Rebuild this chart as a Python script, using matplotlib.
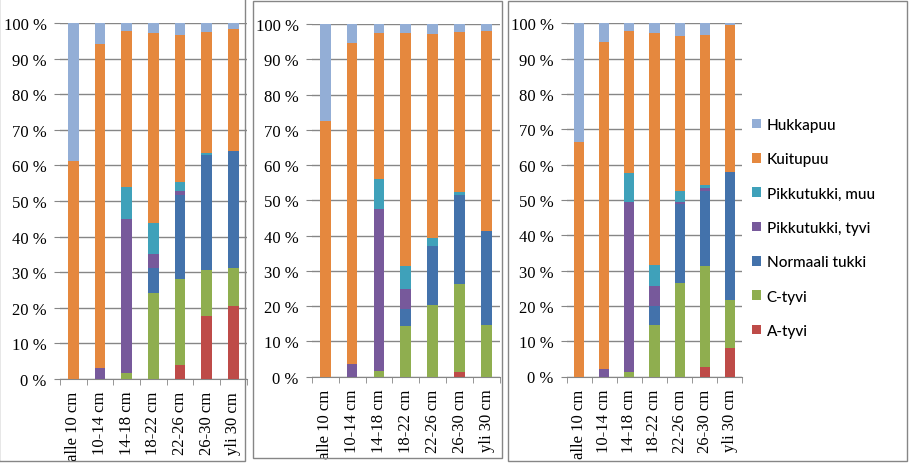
import matplotlib
matplotlib.use('Agg')
import matplotlib.pyplot as plt
from matplotlib.patches import Rectangle, Patch
import numpy as np

categories = ['alle 10 cm', '10-14 cm', '14-18 cm', '18-22 cm', '22-26 cm', '26-30 cm', 'yli 30 cm']
series = ['A-tyvi', 'C-tyvi', 'Normaali tukki', 'Pikkutukki, tyvi', 'Pikkutukki, muu', 'Kuitupuu', 'Hukkapuu']
colors = ['#BE4B48', '#8FAE4F', '#4372AB', '#77599B', '#3FA1BA', '#E5883E', '#93AED6']

# shares in %, one list per series (bottom to top), one value per category
panel1 = {
    'A-tyvi':           [0, 0, 0, 0, 4.0, 17.8, 20.6],
    'C-tyvi':           [0, 0, 1.7, 24.2, 24.1, 12.9, 10.7],
    'Normaali tukki':   [0, 0, 0, 6.9, 23.7, 32.2, 32.7],
    'Pikkutukki, tyvi': [0, 3.1, 43.2, 4.0, 0.9, 0, 0],
    'Pikkutukki, muu':  [0, 0, 9.1, 8.7, 2.6, 0.5, 0],
    'Kuitupuu':         [61.1, 91.0, 43.7, 53.5, 41.4, 34.2, 34.2],
    'Hukkapuu':         [38.9, 5.9, 2.3, 2.7, 3.3, 2.4, 1.8],
}
panel2 = {
    'A-tyvi':           [0, 0, 0, 0, 0, 1.4, 0],
    'C-tyvi':           [0, 0, 1.6, 14.4, 20.3, 24.8, 14.7],
    'Normaali tukki':   [0, 0, 0, 4.7, 16.8, 25.2, 26.6],
    'Pikkutukki, tyvi': [0, 3.7, 46.0, 5.9, 0, 0, 0],
    'Pikkutukki, muu':  [0, 0, 8.5, 6.4, 2.3, 1.0, 0],
    'Kuitupuu':         [72.4, 90.8, 41.4, 66.1, 57.9, 45.4, 56.6],
    'Hukkapuu':         [27.6, 5.5, 2.5, 2.5, 2.7, 2.2, 2.1],
}
panel3 = {
    'A-tyvi':           [0, 0, 0, 0, 0, 2.8, 8.1],
    'C-tyvi':           [0, 0, 1.3, 14.7, 26.5, 28.5, 13.7],
    'Normaali tukki':   [0, 0, 0, 5.4, 22.2, 21.2, 36.0],
    'Pikkutukki, tyvi': [0, 2.1, 48.0, 5.4, 0.6, 0.8, 0],
    'Pikkutukki, muu':  [0, 0, 8.2, 6.1, 3.2, 1.0, 0],
    'Kuitupuu':         [66.3, 92.5, 40.2, 65.7, 44.0, 42.5, 41.8],
    'Hukkapuu':         [33.7, 5.4, 2.3, 2.7, 3.5, 3.2, 0.4],
}
yticks = list(range(0, 101, 10))

W, H = 909, 464
GRAY = '#868686'
SERIF = 'Liberation Serif'

fig = plt.figure(figsize=(W / 100, H / 100), dpi=100)

# plot areas in pixels: left, right, top, bottom
areas = [(60, 246.7, 24, 380), (311.7, 500, 25, 377.7), (566.7, 742.3, 24.3, 377.5)]
# outer chart boxes in pixels
boxes = [(-1, 245, -1, 462), (253.3, 501.7, 2.3, 459.3), (508.3, 907, 2, 462)]

for (x0, x1, y0, y1) in boxes:
    fig.patches.append(Rectangle((x0 / W, 1 - y1 / H), (x1 - x0) / W, (y1 - y0) / H,
                                 transform=fig.transFigure, fill=False,
                                 edgecolor=GRAY, linewidth=1.0))

x = np.arange(len(categories))
for data, (x0, x1, y0, y1) in zip([panel1, panel2, panel3], areas):
    ax = fig.add_axes([x0 / W, 1 - y1 / H, (x1 - x0) / W, (y1 - y0) / H])
    bottom = np.zeros(len(categories))
    for name, c in zip(series, colors):
        vals = np.array(data[name])
        ax.bar(x, vals, 0.4, bottom=bottom, color=c, zorder=3)
        bottom += vals
    ax.set_xlim(-0.5, len(categories) - 0.5)
    ax.set_ylim(0, 100)
    ax.set_yticks(yticks)
    ax.set_yticklabels([f'{v} %' for v in yticks], fontfamily=SERIF, fontsize=12)
    ax.tick_params(axis='y', length=4, color=GRAY, pad=5.5)
    ax.yaxis.grid(True, color=GRAY, linewidth=1.0, zorder=0)
    ax.set_xticks(x)
    ax.set_xticklabels(categories, rotation=90, fontfamily=SERIF, fontsize=12)
    ax.tick_params(axis='x', which='major', length=0, pad=8.5)
    ax.set_xticks(np.arange(len(categories) + 1) - 0.5, minor=True)
    ax.tick_params(axis='x', which='minor', length=4, color=GRAY, direction='out')
    for s in ['left', 'top', 'right']:
        ax.spines[s].set_visible(False)
    ax.spines['bottom'].set_color(GRAY)
    ax.set_axisbelow(True)

handles = [Patch(facecolor=c, label=n) for n, c in zip(series, colors)][::-1]
fig.legend(handles=handles, loc='upper left', bbox_to_anchor=(752 / W, 1 - 119 / H),
           frameon=False, prop={'family': 'Lato', 'size': 11, 'weight': 'medium'},
           handlelength=0.6, handleheight=0.6, handletextpad=0.35,
           labelspacing=1.33, borderpad=0, borderaxespad=0)

fig.savefig('out.png', dpi=100)
